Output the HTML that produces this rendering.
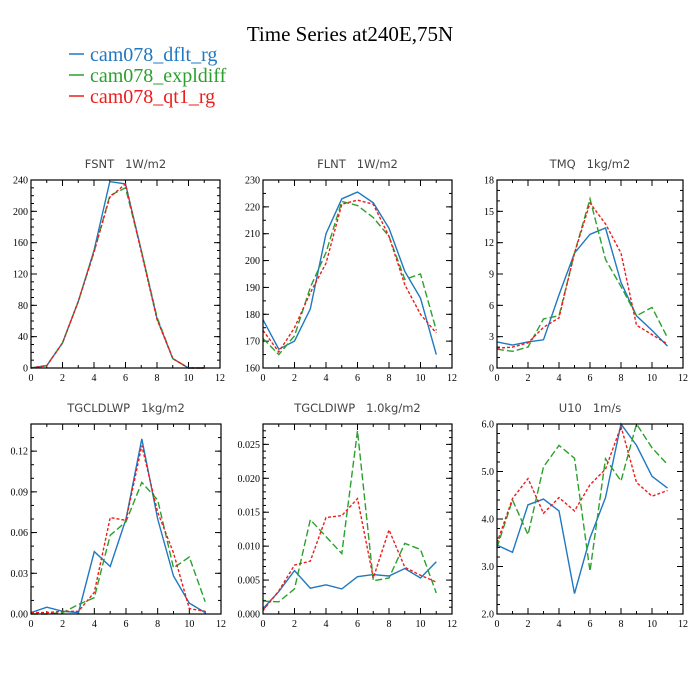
<!DOCTYPE html>
<html><head><meta charset="utf-8"><style>
html,body{margin:0;padding:0;background:#fff;}
svg{display:block;}
</style></head><body>
<svg id="chart" width="700" height="700" xmlns="http://www.w3.org/2000/svg">
<text x="350" y="41" text-anchor="middle" font-family="Liberation Serif, serif" font-size="21" fill="#000">Time Series at240E,75N</text>
<g>
<line x1="69" y1="54" x2="84" y2="54" stroke="#1f78c0" stroke-width="1.5"/>
<text x="90" y="61" font-family="Liberation Serif, serif" font-size="20" fill="#1f78c0">cam078_dflt_rg</text>
<line x1="69" y1="75" x2="84" y2="75" stroke="#2ca02c" stroke-width="1.5"/>
<text x="90" y="82" font-family="Liberation Serif, serif" font-size="20" fill="#2ca02c">cam078_expldiff</text>
<line x1="69" y1="96" x2="84" y2="96" stroke="#ee1c1c" stroke-width="1.5"/>
<text x="90" y="103" font-family="Liberation Serif, serif" font-size="20" fill="#ee1c1c">cam078_qt1_rg</text>
</g>
</svg>
<script>
const months = [0,1,2,3,4,5,6,7,8,9,10,11];
const xTicks = [0,2,4,6,8,10,12];
const seriesNames = ["dflt","expldiff","qt1"];
const panelTitles = ["FSNT   1W/m2","FLNT   1W/m2","TMQ   1kg/m2","TGCLDLWP   1kg/m2","TGCLDIWP   1.0kg/m2","U10   1m/s"];
const fsntDflt = [0,3,32,85,150,238,235,150,63,12,0,0];
const fsntExpl = [0,3,32,85,148,220,230,150,65,12,0,0];
const fsntQt1 = [0,3,32,85,148,218,235,148,62,12,0,0];
const flntDflt = [178,167,170,182,210,223,225.5,221.5,212,196,186,165];
const flntExpl = [171,165,172,190,203,222,220.5,216,209,193,195,174];
const flntQt1 = [174,166,175,188,199,221,222.5,221,209,191,180,173];
const tmqDflt = [2.5,2.2,2.5,2.7,7,11,12.8,13.4,8.2,5,3.6,2.1];
const tmqExpl = [1.8,1.6,2,4.7,5,11,16.2,10.4,7.8,5,5.8,2.9];
const tmqQt1 = [1.9,2,2.4,3.9,4.8,11,15.8,13.8,11,4.1,3.2,2.3];
const lwpDflt = [0.001,0.005,0.002,0.001,0.046,0.035,0.07,0.129,0.07,0.028,0.008,0.001];
const lwpExpl = [0,0,0.001,0.007,0.012,0.058,0.068,0.097,0.084,0.034,0.042,0.009];
const lwpQt1 = [0.001,0.001,0.002,0.002,0.016,0.071,0.069,0.124,0.075,0.045,0.004,0.002];
const iwpDflt = [0.0008,0.0033,0.0064,0.0038,0.0043,0.0037,0.0055,0.0058,0.0056,0.0067,0.0053,0.0077];
const iwpExpl = [0.0019,0.0018,0.0037,0.0139,0.0114,0.0089,0.027,0.0049,0.0053,0.0104,0.0095,0.0031];
const iwpQt1 = [0.0005,0.0034,0.0072,0.0078,0.0142,0.0145,0.017,0.0053,0.0124,0.0069,0.0057,0.0047];
const u10Dflt = [3.45,3.3,4.3,4.42,4.17,2.43,3.6,4.45,6,5.55,4.9,4.65];
const u10Expl = [3.4,4.4,3.67,5.1,5.55,5.28,2.9,5.27,4.8,6,5.5,5.15];
const u10Qt1 = [3.5,4.43,4.85,4.12,4.45,4.17,4.72,5.05,5.95,4.77,4.48,4.6];
const fsntTicks = ["0","40","80","120","160","200","240"];
const flntTicks = ["160","170","180","190","200","210","220","230"];
const tmqTicks = ["0","3","6","9","12","15","18"];
const lwpTicks = ["0.00","0.03","0.06","0.09","0.12"];
const iwpTicks = ["0.000","0.005","0.010","0.015","0.020","0.025"];
const u10Ticks = ["2.0","3.0","4.0","5.0","6.0"];

const NS="http://www.w3.org/2000/svg";
const svg=document.getElementById('chart');
const colors=["#1f78c0","#2ca02c","#ee1c1c"];
const dashes=[null,"7,3","3,2"];
function mk(tag,attrs,parent){const e=document.createElementNS(NS,tag);for(const k in attrs)e.setAttribute(k,attrs[k]);(parent||svg).appendChild(e);return e;}

const panels=[
 {x0:31,x1:220,y0:180,y1:368,ymin:0,ymax:240,ticks:fsntTicks,minor:4,data:[fsntDflt,fsntExpl,fsntQt1],name:"fsnt"},
 {x0:263,x1:452,y0:180,y1:368,ymin:160,ymax:230,ticks:flntTicks,minor:2,data:[flntDflt,flntExpl,flntQt1],name:"flnt"},
 {x0:497,x1:683,y0:180,y1:368,ymin:0,ymax:18,ticks:tmqTicks,minor:3,data:[tmqDflt,tmqExpl,tmqQt1],name:"tmq"},
 {x0:31,x1:221,y0:424,y1:614,ymin:0,ymax:0.14,ticks:lwpTicks,minor:3,data:[lwpDflt,lwpExpl,lwpQt1],name:"tgcldlwp"},
 {x0:263,x1:452,y0:424,y1:614,ymin:0,ymax:0.028,ticks:iwpTicks,minor:5,data:[iwpDflt,iwpExpl,iwpQt1],name:"tgcldiwp"},
 {x0:497,x1:683,y0:424,y1:614,ymin:2,ymax:6,ticks:u10Ticks,minor:5,data:[u10Dflt,u10Expl,u10Qt1],name:"u10"}
];
panels.forEach((p,pi)=>{
 const g=mk('g',{});
 
 
 const sx=v=>p.x0+(v-0)/12*(p.x1-p.x0);
 const sy=v=>p.y1-(v-p.ymin)/(p.ymax-p.ymin)*(p.y1-p.y0);
 const t=mk('text',{x:(p.x0+p.x1)/2,y:p.y0-12,'text-anchor':'middle','font-family':'DejaVu Sans, sans-serif','font-size':'11.5',fill:'#444','xml:space':'preserve'},g);
 t.textContent=panelTitles[pi].replace(/   /,'\u00a0\u00a0\u00a0');
 
 
 // x ticks
 for(let m=0;m<=12;m++){
  const x=sx(m),len=(m%2===0)?6:3;
  mk('line',{x1:x,y1:p.y1,x2:x,y2:p.y1-len,stroke:'#000','stroke-width':1},g);
  mk('line',{x1:x,y1:p.y0,x2:x,y2:p.y0+len,stroke:'#000','stroke-width':1},g);
 }
 xTicks.forEach(v=>{
  const tx=mk('text',{x:sx(v),y:p.y1+13,'text-anchor':'middle','font-family':'Liberation Serif, serif','font-size':'10',fill:'#000'},g);
  tx.textContent=String(v);
  
  
 });
 // y ticks
 const nT=p.ticks.length;
 const step=(parseFloat(p.ticks[1])-parseFloat(p.ticks[0]));
 for(let i=0;i<nT;i++){
  const v=parseFloat(p.ticks[i]);const y=sy(v);
  mk('line',{x1:p.x0,y1:y,x2:p.x0+6,y2:y,stroke:'#000','stroke-width':1},g);
  mk('line',{x1:p.x1,y1:y,x2:p.x1-6,y2:y,stroke:'#000','stroke-width':1},g);
  const ty=mk('text',{x:p.x0-3,y:y+3.5,'text-anchor':'end','font-family':'Liberation Serif, serif','font-size':'10',fill:'#000'},g);
  ty.textContent=p.ticks[i];
  
  
 }
 for(let v=p.ymin;v<=p.ymax+1e-9;v+=step/p.minor){
  const y=sy(v);
  mk('line',{x1:p.x0,y1:y,x2:p.x0+3,y2:y,stroke:'#000','stroke-width':1},g);
  mk('line',{x1:p.x1,y1:y,x2:p.x1-3,y2:y,stroke:'#000','stroke-width':1},g);
 }
 // series
 p.data.forEach((arr,si)=>{
  const pts=arr.map((v,i)=>sx(months[i]).toFixed(1)+','+sy(v).toFixed(1)).join(' ');
  const a={points:pts,fill:'none',stroke:colors[si],'stroke-width':1.4};
  if(dashes[si])a['stroke-dasharray']=dashes[si];
  const pl=mk('polyline',a,g);
  
  
 });
 const r=mk('rect',{x:p.x0,y:p.y0,width:p.x1-p.x0,height:p.y1-p.y0,fill:'none',stroke:'#000','stroke-width':1.2},g);
 
 
});
</script>
</body></html>
